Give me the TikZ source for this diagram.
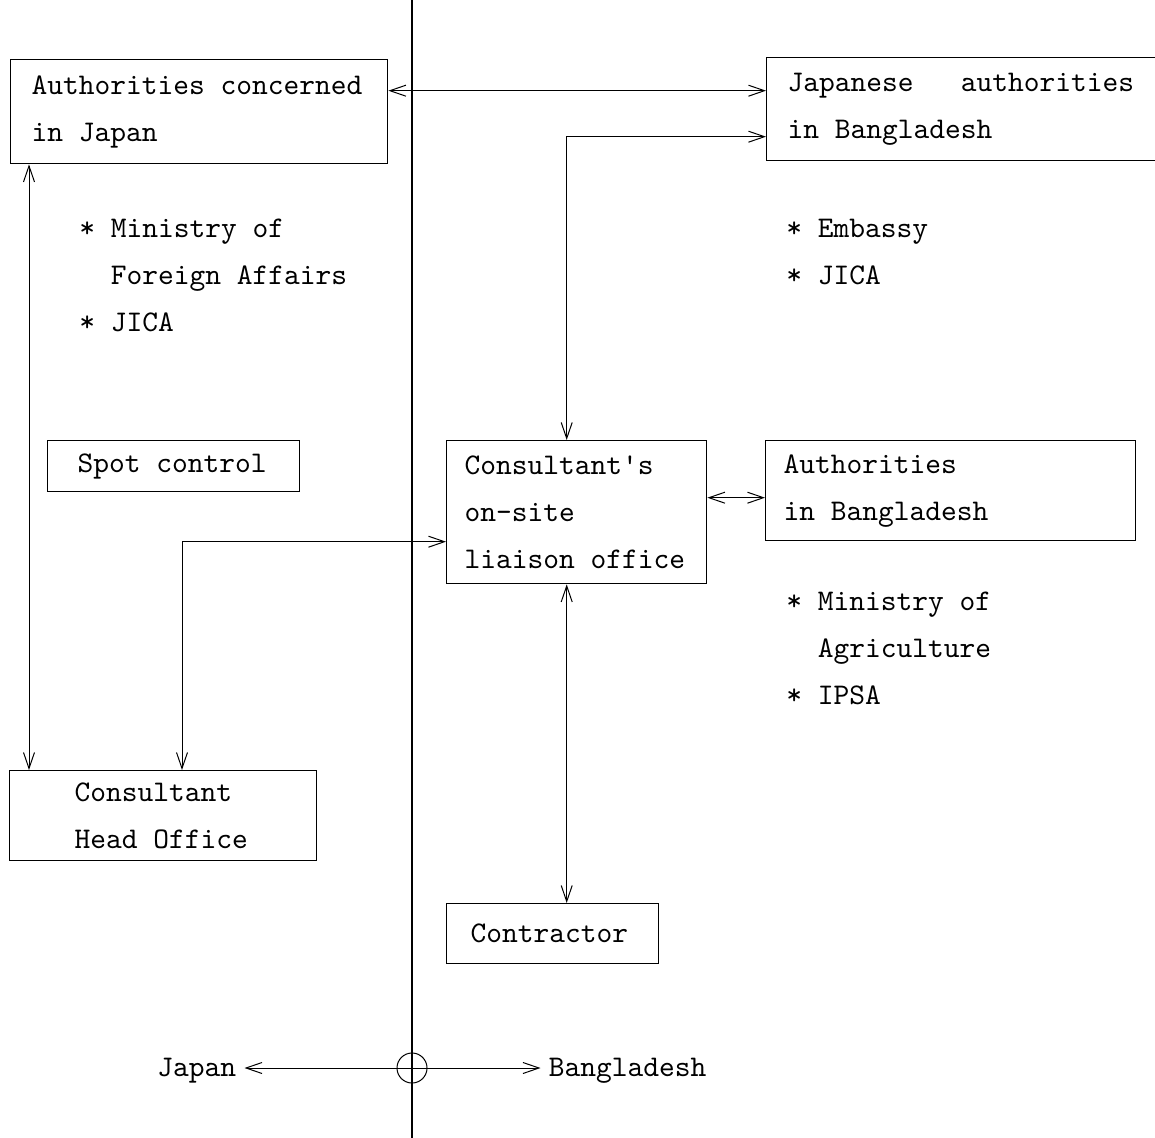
\documentclass[tikz,border=0pt]{standalone}
\usepackage{tikz}
\usetikzlibrary{positioning,arrows.meta}

\font\boxtt="[lmmono10-regular.otf]" at 15pt
\fontdimen3\boxtt=0pt
\fontdimen4\boxtt=0pt
\newcommand{\typefont}{\boxtt\baselineskip=23.5pt}

\begin{document}
\begin{tikzpicture}[x=0.5pt, y=-0.5pt,
    box/.style={draw, line width=0.7pt, align=left, anchor=north west, font=\typefont, inner ysep=0pt,
      execute at begin node={\spaceskip=7.875pt\relax}},
    note/.style={align=left, anchor=north west, font=\typefont, inner sep=0pt},
    tag/.style={font=\typefont, inner xsep=4pt, inner ysep=0pt, yshift=-1.5pt},
    arr/.style={{Straight Barb[length=8pt,width=5.5pt]}-{Straight Barb[length=8pt,width=5.5pt]}, line width=0.5pt},
    one/.style={-{Straight Barb[length=8pt,width=5.5pt]}, line width=0.5pt}]
  \useasboundingbox (0,0) rectangle (1155,1138);
  % boxes
  \node[box, text width=167.5pt, inner xsep=10.5pt, minimum height=52pt] (jauth) at (10,59) {Authorities concerned\\in Japan};
  \node[box, text width=190pt, inner xsep=10.5pt, minimum height=51.5pt] (jbd) at (766,57) {Japanese\ \ \ authorities\\in Bangladesh};
  \node[box, text width=96pt, inner xsep=15pt, minimum height=25.5pt] (spot) at (47,440) {Spot control};
  \node[box, text width=112pt, inner xsep=9pt, minimum height=71.5pt] (site) at (446,440) {Consultant's\\on-site\\liaison office};
  \node[box, text width=167pt, inner xsep=9pt, minimum height=50pt] (bdauth) at (765,440) {Authorities\\in Bangladesh};
  \node[box, text width=88.5pt, inner xsep=32.5pt, minimum height=45pt] (head) at (9,770) {Consultant\\Head Office};
  \node[box, text width=82pt, inner xsep=12pt, minimum height=30pt] (contr) at (446,903) {Contractor};
  % lists
  \node[note] (mofa) at (79,219) {* Ministry of\\\phantom{* }Foreign Affairs\\* JICA};
  \node[note] (emb) at (786,219) {* Embassy\\* JICA};
  \node[note] (moa) at (786,592) {* Ministry of\\\phantom{* }Agriculture\\* IPSA};
  % border Japan / Bangladesh
  \coordinate (top) at (412,0);
  \coordinate (bot) at (412,1138);
  \node[circle, draw, minimum size=15pt, inner sep=0pt, line width=0.5pt] (origin) at (412,1068) {};
  \draw[line width=1.2pt] (top) -- (bot);
  \node[tag, left=76pt of origin] (jp) {Japan};
  \node[tag, right=56.5pt of origin] (bd) {Bangladesh};
  \draw[one] (origin.center) -- (origin.center -| jp.east);
  \draw[one] (origin.center) -- (origin.center -| bd.west);
  % links
  \draw[arr] ([yshift=10.5pt]jauth.east) -- ([yshift=10.5pt]jauth.east -| jbd.west);
  \draw[arr] ([xshift=-5pt]site.north) |- ([yshift=-13.75pt]jbd.west);
  \draw[arr] ([xshift=9.5pt]jauth.south west) -- ([xshift=9.5pt]jauth.south west |- head.north);
  \draw[arr] ([xshift=86.5pt]head.north west) |- ([yshift=-14.75pt]site.west);
  \draw[arr] ([yshift=7.25pt]site.east) -- ([yshift=7.25pt]site.east -| bdauth.west);
  \draw[arr] ([xshift=-5pt]site.south) -- ([xshift=-5pt]site.south |- contr.north);
\end{tikzpicture}
\end{document}
